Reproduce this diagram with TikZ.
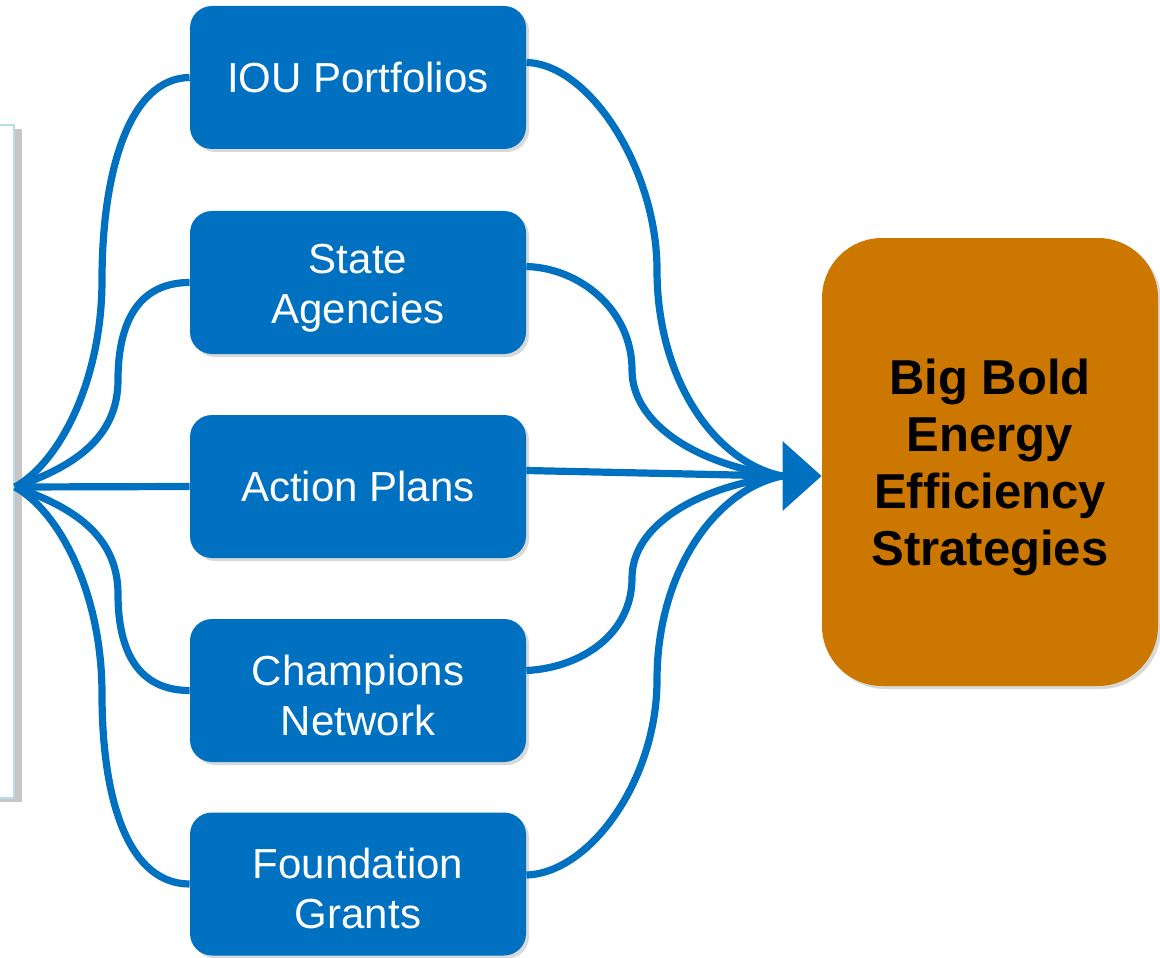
\documentclass[tikz,border=0pt]{standalone}
\usepackage{fontspec}
\setmainfont{Liberation Sans}
\usepackage{xcolor}
\usetikzlibrary{
    arrows.meta,
    shadows,
    calc
}
\definecolor{flowblue}{HTML}{0070C0}
\definecolor{goalorange}{HTML}{CC7700}
\definecolor{paneledge}{HTML}{B7DEE8}

\begin{document}
\begin{tikzpicture}[x=0.5pt, y=-0.5pt,
    source/.style={fill=flowblue, rounded corners=11pt, minimum width=168pt, minimum height=71.5pt,
        text=white, align=center, font=\fontsize{21}{25}\selectfont,
        drop shadow={shadow xshift=1.5pt, shadow yshift=-1.5pt, opacity=0.3}},
    twoline/.style={text height=45pt},
    goal/.style={fill=goalorange, rounded corners=30pt, minimum width=168pt, minimum height=224pt,
        align=center, font=\fontsize{24.5}{28.5}\selectfont\bfseries, text height=108.6pt,
        drop shadow={shadow xshift=1.5pt, shadow yshift=-1.5pt, opacity=0.3}},
    flow/.style={draw=flowblue, line width=3.6pt}
    ]
    \useasboundingbox (0,0) rectangle (1160,957);

    % panel cut off at the left edge
    \draw[draw=paneledge, fill=white, line width=1pt,
        drop shadow={shadow xshift=4pt, shadow yshift=-2pt, opacity=0.45}] (-40,125) rectangle (14,798);

    \coordinate (hub) at (15,487);
    \coordinate (conv) at (782,476);

    \node[source] (n1) at (358,77.5) {IOU Portfolios};
    \node[source, twoline] (n2) at (358,282.5) {State\\Agencies};
    \node[source] (n3) at (358,486.5) {Action Plans};
    \node[source, twoline] (n4) at (358,690.5) {Champions\\Network};
    \node[source, twoline] (n5) at (358,884) {Foundation\\Grants};
    \node[goal] (nbig) at (990,462) {Big Bold\\Energy\\Efficiency\\Strategies};

    % fan out from the panel (brace shaped)
    \draw[flow] (hub) .. controls (60,462) and (102,380) .. (102,280)
        .. controls (102,170) and (130,78) .. (n1.west);
    \draw[flow] (hub) .. controls (70,468) and (118,440) .. (118,380)
        .. controls (118,320) and (140,282.5) .. (n2.west);
    \draw[flow] (hub) -- (n3.west);
    \draw[flow] (hub) .. controls (70,506) and (118,534) .. (118,594)
        .. controls (118,654) and (140,690.5) .. (n4.west);
    \draw[flow] (hub) .. controls (60,512) and (102,594) .. (102,694)
        .. controls (102,804) and (130,884) .. (n5.west);

    % fan in to the goal
    \draw[flow] ([yshift=7.5pt]n1.east) .. controls (590,64) and (657,170) .. (657,270)
        .. controls (657,380) and (715,462) .. (conv);
    \draw[flow] ([yshift=8pt]n2.east) .. controls (580,268) and (632,310) .. (632,370)
        .. controls (632,425) and (700,466) .. (conv);
    \draw[flow] ([yshift=8pt]n3.east) -- (conv);
    \draw[flow] ([yshift=10pt]n4.east) .. controls (580,668) and (632,635) .. (632,578)
        .. controls (632,524) and (700,486) .. (conv);
    \draw[flow] ([yshift=4.5pt]n5.east) .. controls (590,873) and (657,780) .. (657,680)
        .. controls (657,572) and (715,490) .. (conv);
    \draw[flow, -{Triangle[length=19.5pt, width=34pt]}] (conv) -- ([yshift=-7pt]nbig.west);
\end{tikzpicture}
\end{document}
